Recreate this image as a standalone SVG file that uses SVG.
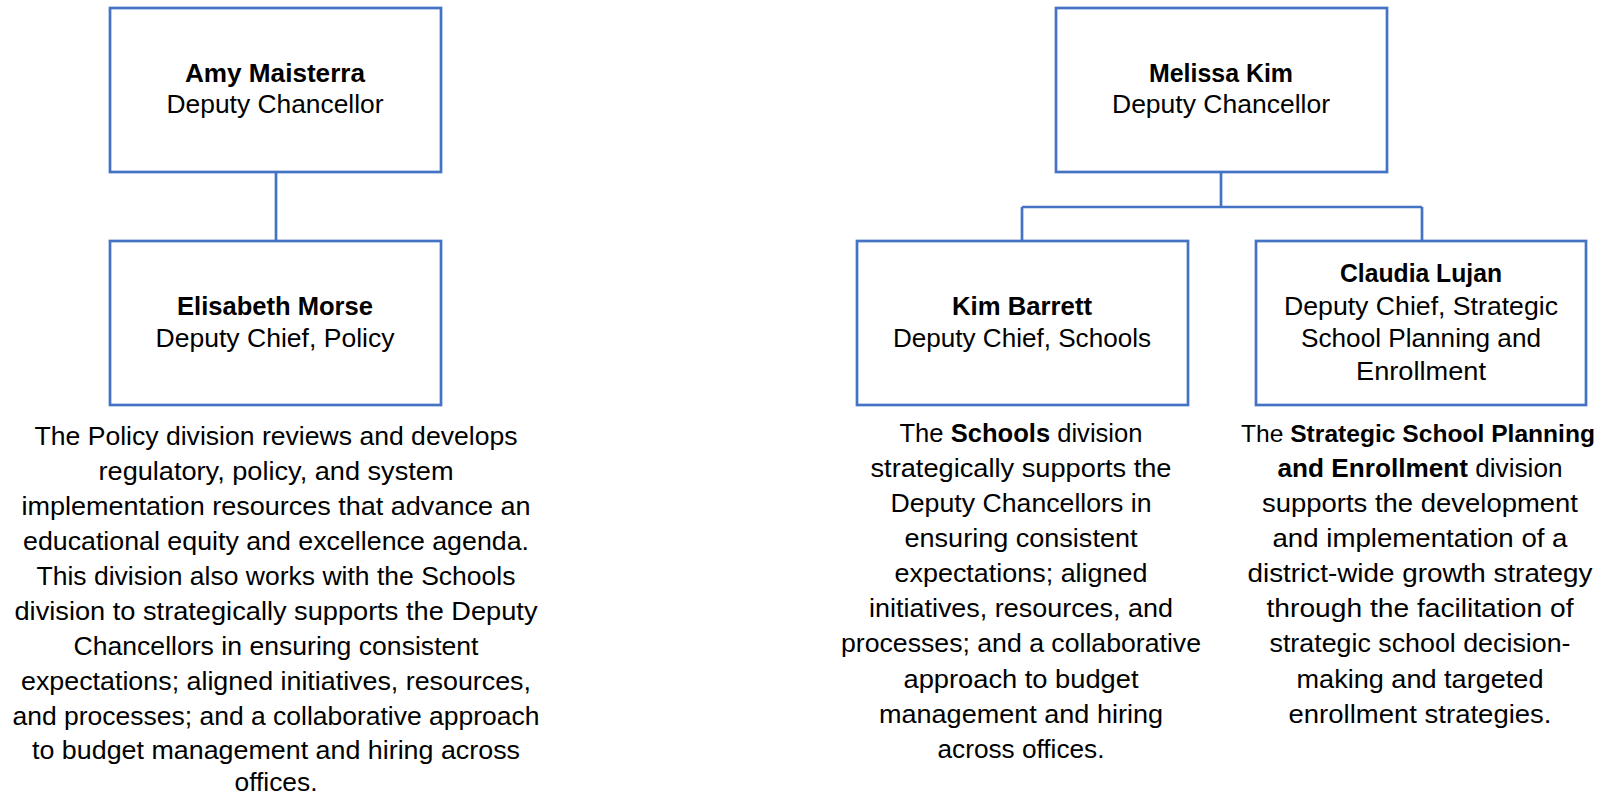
<svg xmlns="http://www.w3.org/2000/svg" width="1603" height="798" viewBox="0 0 1603 798">
<style>
.box{fill:#ffffff;stroke:#4472C4;stroke-width:2.7}
.conn{fill:none;stroke:#4472C4;stroke-width:2.7}
text{font-family:"Liberation Sans",Arial,sans-serif;font-size:26px;fill:#000;text-anchor:middle}
.b{font-weight:bold}
</style>
<rect width="1603" height="798" fill="#ffffff"/>
<g id="connectors">
<path class="conn" d="M276 172V241"/>
<path class="conn" d="M1221 172V207M1022 207H1422M1022 207V241M1422 207V241"/>
</g>
<g id="amy">
<rect class="box" x="110" y="8" width="331" height="164"/>
<text x="275" y="82" class="b" textLength="180" lengthAdjust="spacingAndGlyphs">Amy Maisterra</text>
<text x="275" y="113" textLength="217" lengthAdjust="spacingAndGlyphs">Deputy Chancellor</text>
</g>
<g id="elisabeth">
<rect class="box" x="110" y="241" width="331" height="164"/>
<text x="275" y="315" class="b" textLength="196" lengthAdjust="spacingAndGlyphs">Elisabeth Morse</text>
<text x="275" y="347" textLength="239" lengthAdjust="spacingAndGlyphs">Deputy Chief, Policy</text>
</g>
<g id="melissa">
<rect class="box" x="1056" y="8" width="331" height="164"/>
<text x="1221" y="82" class="b" textLength="144" lengthAdjust="spacingAndGlyphs">Melissa Kim</text>
<text x="1221" y="113" textLength="218" lengthAdjust="spacingAndGlyphs">Deputy Chancellor</text>
</g>
<g id="kim">
<rect class="box" x="857" y="241" width="331" height="164"/>
<text x="1022" y="315" class="b" textLength="140" lengthAdjust="spacingAndGlyphs">Kim Barrett</text>
<text x="1022" y="347" textLength="258" lengthAdjust="spacingAndGlyphs">Deputy Chief, Schools</text>
</g>
<g id="claudia">
<rect class="box" x="1256" y="241" width="330" height="164"/>
<text x="1421" y="282" class="b" textLength="162" lengthAdjust="spacingAndGlyphs">Claudia Lujan</text>
<text x="1421" y="315" textLength="274" lengthAdjust="spacingAndGlyphs">Deputy Chief, Strategic</text>
<text x="1421" y="347" textLength="240" lengthAdjust="spacingAndGlyphs">School Planning and</text>
<text x="1421" y="380" textLength="130" lengthAdjust="spacingAndGlyphs">Enrollment</text>
</g>
<g id="policy-description">
<text x="276" y="445" textLength="483" lengthAdjust="spacingAndGlyphs">The Policy division reviews and develops</text>
<text x="276" y="480" textLength="355" lengthAdjust="spacingAndGlyphs">regulatory, policy, and system</text>
<text x="276" y="515" textLength="509" lengthAdjust="spacingAndGlyphs">implementation resources that advance an</text>
<text x="276" y="550" textLength="506" lengthAdjust="spacingAndGlyphs">educational equity and excellence agenda.</text>
<text x="276" y="585" textLength="479" lengthAdjust="spacingAndGlyphs">This division also works with the Schools</text>
<text x="276" y="620" textLength="523" lengthAdjust="spacingAndGlyphs">division to strategically supports the Deputy</text>
<text x="276" y="655" textLength="405" lengthAdjust="spacingAndGlyphs">Chancellors in ensuring consistent</text>
<text x="276" y="690" textLength="510" lengthAdjust="spacingAndGlyphs">expectations; aligned initiatives, resources,</text>
<text x="276" y="725" textLength="527" lengthAdjust="spacingAndGlyphs">and processes; and a collaborative approach</text>
<text x="276" y="759" textLength="488" lengthAdjust="spacingAndGlyphs">to budget management and hiring across</text>
<text x="276" y="791" textLength="83" lengthAdjust="spacingAndGlyphs">offices.</text>
</g>
<g id="schools-description">
<text x="1021" y="442" textLength="243" lengthAdjust="spacingAndGlyphs">The <tspan class="b">Schools</tspan> division</text>
<text x="1021" y="477" textLength="301" lengthAdjust="spacingAndGlyphs">strategically supports the</text>
<text x="1021" y="512" textLength="261" lengthAdjust="spacingAndGlyphs">Deputy Chancellors in</text>
<text x="1021" y="547" textLength="233" lengthAdjust="spacingAndGlyphs">ensuring consistent</text>
<text x="1021" y="582" textLength="253" lengthAdjust="spacingAndGlyphs">expectations; aligned</text>
<text x="1021" y="617" textLength="304" lengthAdjust="spacingAndGlyphs">initiatives, resources, and</text>
<text x="1021" y="652" textLength="360" lengthAdjust="spacingAndGlyphs">processes; and a collaborative</text>
<text x="1021" y="688" textLength="235" lengthAdjust="spacingAndGlyphs">approach to budget</text>
<text x="1021" y="723" textLength="284" lengthAdjust="spacingAndGlyphs">management and hiring</text>
<text x="1021" y="758" textLength="167" lengthAdjust="spacingAndGlyphs">across offices.</text>
</g>
<g id="claudia-description">
<text x="1418" y="442" style="font-size:24px" textLength="354" lengthAdjust="spacingAndGlyphs">The <tspan class="b">Strategic School Planning</tspan></text>
<text x="1420" y="477" textLength="285" lengthAdjust="spacingAndGlyphs"><tspan class="b">and Enrollment</tspan> division</text>
<text x="1420" y="512" textLength="316" lengthAdjust="spacingAndGlyphs">supports the development</text>
<text x="1420" y="547" textLength="295" lengthAdjust="spacingAndGlyphs">and implementation of a</text>
<text x="1420" y="582" textLength="345" lengthAdjust="spacingAndGlyphs">district-wide growth strategy</text>
<text x="1420" y="617" textLength="307" lengthAdjust="spacingAndGlyphs">through the facilitation of</text>
<text x="1420" y="652" textLength="301" lengthAdjust="spacingAndGlyphs">strategic school decision-</text>
<text x="1420" y="688" textLength="247" lengthAdjust="spacingAndGlyphs">making and targeted</text>
<text x="1420" y="723" textLength="263" lengthAdjust="spacingAndGlyphs">enrollment strategies.</text>
</g>
</svg>
